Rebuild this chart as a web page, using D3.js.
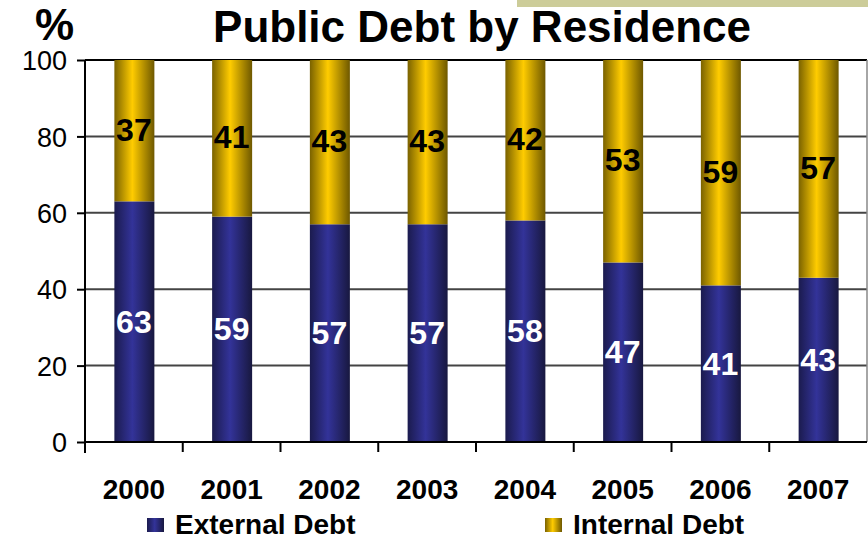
<!DOCTYPE html>
<html><head><meta charset="utf-8">
<script src="https://cdn.jsdelivr.net/npm/d3@7"></script>
<style>body{margin:0;background:#fff}svg{display:block;font-family:"Liberation Sans",Arial,sans-serif}</style>
</head><body><svg id="c" width="868" height="541"></svg>
<script>
const years = ["2000","2001","2002","2003","2004","2005","2006","2007"];
const externalDebt = [63,59,57,57,58,47,41,43];
const internalDebt = [37,41,43,43,42,53,59,57];
const yTicks = [0,20,40,60,80,100];
const seriesNames = ["External Debt","Internal Debt"];

const svg = d3.select("#c");
const L=85, R=867, T=60, B=442;
const x = d3.scaleBand().domain(years).range([L,R]).paddingInner(0).paddingOuter(0);
const y = d3.scaleLinear().domain([0,100]).range([B,T]);
const barW = 40;

const defs = svg.append("defs");
function grad(id, edgeL, mid, edgeR){
  const g = defs.append("linearGradient").attr("id",id).attr("x1","0").attr("x2","1").attr("y1","0").attr("y2","0");
  g.append("stop").attr("offset","0%").attr("stop-color",edgeL);
  g.append("stop").attr("offset","45%").attr("stop-color",mid);
  g.append("stop").attr("offset","100%").attr("stop-color",edgeR);
}
grad("gBlue","#1b1b4e","#333399","#18183f");
grad("gYel","#7a6200","#ffcc00","#6e5800");

// decorative tan band
svg.append("rect").attr("x",517).attr("y",0).attr("width",351).attr("height",7).attr("fill","#cccc99");

// gridlines
svg.append("g").selectAll("line").data(yTicks.filter(d=>d>0&&d<100)).join("line")
  .attr("x1",L).attr("x2",R).attr("y1",d=>y(d)).attr("y2",d=>y(d))
  .attr("stroke","#444").attr("stroke-width",2);
svg.append("line").attr("x1",L).attr("x2",R).attr("y1",y(100)).attr("y2",y(100)).attr("stroke","#000").attr("stroke-width",2);
svg.append("line").attr("x1",R).attr("x2",R).attr("y1",T).attr("y2",B).attr("stroke","#888").attr("stroke-width",1.5);

// bars
const data = years.map((yr,i)=>({yr, ext:externalDebt[i], int:internalDebt[i]}));
const gb = svg.append("g");
gb.selectAll("rect.ext").data(data).join("rect").attr("class","ext")
  .attr("x",d=>x(d.yr)+x.bandwidth()/2-barW/2+0.5).attr("width",barW)
  .attr("y",d=>y(d.ext)).attr("height",d=>y(0)-y(d.ext)).attr("fill","url(#gBlue)");
gb.selectAll("rect.int").data(data).join("rect").attr("class","int")
  .attr("x",d=>x(d.yr)+x.bandwidth()/2-barW/2+0.5).attr("width",barW)
  .attr("y",d=>y(d.ext+d.int)).attr("height",d=>y(d.ext)-y(d.ext+d.int)).attr("fill","url(#gYel)");

// data labels
const lab = svg.append("g").attr("font-weight","bold").attr("font-size",32).attr("text-anchor","middle");
lab.selectAll("text.e").data(data).join("text").attr("class","e")
  .attr("x",d=>x(d.yr)+x.bandwidth()/2).attr("y",d=>y(d.ext/2)+11).attr("fill","#fff").text(d=>d.ext);
lab.selectAll("text.i").data(data).join("text").attr("class","i")
  .attr("x",d=>x(d.yr)+x.bandwidth()/2).attr("y",d=>y(d.ext+d.int/2)+10).attr("fill","#000").text(d=>d.int);

// y axis
const yAxis = d3.axisLeft(y).tickValues(yTicks).tickSize(8).tickPadding(10);
const ya = svg.append("g").attr("transform",`translate(${L},0)`).call(yAxis);
ya.select(".domain").attr("stroke","#000").attr("stroke-width",2).attr("d",`M0,${T}V${B+11}`);
ya.selectAll(".tick line").attr("stroke","#000").attr("stroke-width",2);
ya.selectAll(".tick text").attr("font-size",27).attr("fill","#000").attr("font-family","Liberation Sans, Arial, sans-serif").attr("dy","0.36em");

// x axis
const xAxis = d3.axisBottom(x).tickSize(0).tickPadding(37);
const xa = svg.append("g").attr("transform",`translate(0,${B})`).call(xAxis);
xa.select(".domain").attr("stroke","#000").attr("stroke-width",2).attr("d",`M${L},0H${R}`);
xa.selectAll(".tick text").attr("font-size",28).attr("font-weight","bold").attr("fill","#000").attr("font-family","Liberation Sans, Arial, sans-serif");
xa.selectAll("line.sep").data(years.slice(1)).join("line").attr("class","sep")
  .attr("x1",d=>x(d)).attr("x2",d=>x(d)).attr("y1",0).attr("y2",10).attr("stroke","#000").attr("stroke-width",2);

// title
svg.append("text").attr("x",482).attr("y",42).attr("text-anchor","middle").attr("font-size",44).attr("font-weight","bold").text("Public Debt by Residence");
svg.append("text").attr("x",35).attr("y",40).attr("font-size",44).attr("font-weight","bold").text("%");

// legend
const legX = [147,545], legFill=["url(#gBlue)","url(#gYel)"];
const lg = svg.append("g");
seriesNames.forEach((n,i)=>{
  lg.append("rect").attr("x",legX[i]).attr("y",518).attr("width",17).attr("height",14).attr("fill",legFill[i]);
  lg.append("text").attr("x",legX[i]+28).attr("y",534).attr("font-size",28).attr("font-weight","bold").text(n);
});
</script></body></html>
